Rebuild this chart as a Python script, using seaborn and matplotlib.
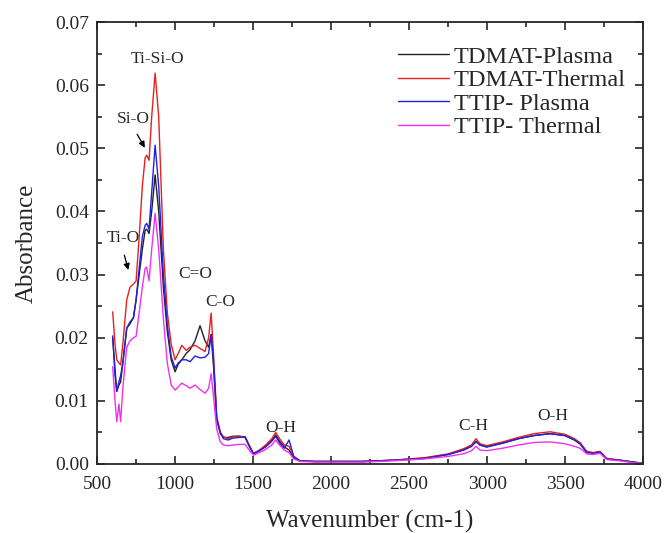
import numpy as np
import pandas as pd
import matplotlib
matplotlib.use("Agg")
import matplotlib.pyplot as plt
import seaborn as sns
from matplotlib.ticker import MultipleLocator

# wavenumbers (cm-1) shared by all spectra
wavenumber = [600, 615, 626, 640, 651, 665, 690, 711, 733, 750, 770, 790, 808, 818, 833, 850,
              872, 895, 925, 950, 975, 1000, 1020, 1043, 1071, 1096, 1128, 1160, 1192, 1215,
              1231, 1245, 1267, 1290, 1310, 1340, 1372, 1410, 1449, 1475, 1502, 1540, 1580,
              1620, 1645, 1670, 1700, 1731, 1760, 1800, 1900, 2000, 2200, 2400, 2600, 2750,
              2848, 2900, 2929, 2955, 2997, 3100, 3200, 3300, 3404, 3500, 3560, 3596, 3639,
              3680, 3724, 3767, 3850, 3938, 4000]

tdmat_plasma = [0.0200, 0.0150, 0.0115, 0.0125, 0.0130, 0.0160, 0.0215, 0.0222, 0.0232, 0.0260,
                0.0300, 0.0340, 0.0370, 0.0372, 0.0365, 0.0400, 0.0458, 0.0400, 0.0280, 0.0210,
                0.0165, 0.0146, 0.0158, 0.0165, 0.0175, 0.0181, 0.0195, 0.0219, 0.0195, 0.0185,
                0.0205, 0.0160, 0.0070, 0.0048, 0.0042, 0.0042, 0.0044, 0.0044, 0.0042, 0.0028,
                0.0016, 0.0021, 0.0028, 0.0037, 0.0046, 0.0036, 0.0027, 0.0022, 0.0010, 0.0005,
                0.0004, 0.0004, 0.0004, 0.0006, 0.0009, 0.0015, 0.0022, 0.0028, 0.0036, 0.0030,
                0.0027, 0.0033, 0.0040, 0.0045, 0.0048, 0.0045, 0.0038, 0.0032, 0.0019, 0.0017,
                0.0019, 0.0008, 0.0006, 0.0003, 0.0001]

tdmat_thermal = [0.0241, 0.0190, 0.0165, 0.0160, 0.0157, 0.0190, 0.0260, 0.0280, 0.0285, 0.0290,
                 0.0360, 0.0440, 0.0485, 0.0489, 0.0481, 0.0550, 0.0619, 0.0550, 0.0340, 0.0240,
                 0.0190, 0.0165, 0.0175, 0.0188, 0.0180, 0.0185, 0.0188, 0.0183, 0.0178, 0.0200,
                 0.0239, 0.0180, 0.0075, 0.0050, 0.0043, 0.0040, 0.0043, 0.0044, 0.0043, 0.0030,
                 0.0017, 0.0022, 0.0030, 0.0040, 0.0050, 0.0040, 0.0030, 0.0028, 0.0012, 0.0005,
                 0.0004, 0.0004, 0.0004, 0.0006, 0.0010, 0.0016, 0.0024, 0.0030, 0.0040, 0.0032,
                 0.0029, 0.0035, 0.0042, 0.0048, 0.0051, 0.0047, 0.0040, 0.0034, 0.0020, 0.0018,
                 0.0020, 0.0009, 0.0006, 0.0003, 0.0001]

ttip_plasma = [0.0203, 0.0140, 0.0115, 0.0130, 0.0140, 0.0160, 0.0215, 0.0225, 0.0231, 0.0260,
               0.0310, 0.0360, 0.0378, 0.0381, 0.0372, 0.0430, 0.0505, 0.0440, 0.0300, 0.0220,
               0.0170, 0.0152, 0.0160, 0.0165, 0.0165, 0.0162, 0.0171, 0.0168, 0.0169, 0.0175,
               0.0205, 0.0170, 0.0072, 0.0050, 0.0040, 0.0038, 0.0041, 0.0042, 0.0043, 0.0029,
               0.0016, 0.0021, 0.0027, 0.0036, 0.0044, 0.0033, 0.0025, 0.0038, 0.0012, 0.0005,
               0.0004, 0.0004, 0.0004, 0.0006, 0.0009, 0.0015, 0.0022, 0.0028, 0.0035, 0.0030,
               0.0027, 0.0033, 0.0040, 0.0045, 0.0048, 0.0045, 0.0038, 0.0032, 0.0018, 0.0017,
               0.0019, 0.0008, 0.0006, 0.0003, 0.0001]

ttip_thermal = [0.0154, 0.0100, 0.0067, 0.0095, 0.0067, 0.0120, 0.0185, 0.0195, 0.0200, 0.0202,
                0.0240, 0.0280, 0.0310, 0.0312, 0.0290, 0.0340, 0.0397, 0.0340, 0.0230, 0.0160,
                0.0125, 0.0117, 0.0122, 0.0128, 0.0124, 0.0120, 0.0125, 0.0118, 0.0112, 0.0120,
                0.0143, 0.0110, 0.0055, 0.0035, 0.0030, 0.0029, 0.0030, 0.0031, 0.0031, 0.0022,
                0.0014, 0.0018, 0.0023, 0.0030, 0.0038, 0.0030, 0.0022, 0.0018, 0.0008, 0.0004,
                0.0003, 0.0003, 0.0003, 0.0005, 0.0008, 0.0012, 0.0016, 0.0021, 0.0028, 0.0022,
                0.0021, 0.0025, 0.0030, 0.0034, 0.0035, 0.0032, 0.0028, 0.0025, 0.0016, 0.0015,
                0.0017, 0.0007, 0.0005, 0.0002, 0.0001]

series_names = ["TDMAT-Plasma", "TDMAT-Thermal", "TTIP- Plasma", "TTIP- Thermal"]
series_colors = ["#222222", "#e8201c", "#2020e0", "#f030f0"]

frames = []
for name, vals in zip(series_names, [tdmat_plasma, tdmat_thermal, ttip_plasma, ttip_thermal]):
    frames.append(pd.DataFrame({"wn": wavenumber, "abs": vals, "sample": name}))
df = pd.concat(frames, ignore_index=True)

sns.set_style("ticks")
plt.rcParams['font.family'] = ['Liberation Serif', 'DejaVu Serif']

fig = plt.figure(figsize=(6.65, 5.33), dpi=100)
ax = fig.add_axes([0.146, 0.1295, 0.821, 0.8292])

sns.lineplot(data=df, x="wn", y="abs", hue="sample", hue_order=series_names,
             palette=series_colors, linewidth=1.0, ax=ax, sort=False)

ax.set_xlim(500, 4000)
ax.set_ylim(0, 0.07)
ax.xaxis.set_major_locator(MultipleLocator(500))
ax.xaxis.set_minor_locator(MultipleLocator(250))
ax.yaxis.set_major_locator(MultipleLocator(0.01))
ax.yaxis.set_minor_locator(MultipleLocator(0.005))
ax.yaxis.set_major_formatter(matplotlib.ticker.FormatStrFormatter('%.2f'))
ax.tick_params(which="both", direction="in", top=True, right=True, labelsize=14, width=1.2)
ax.tick_params(which="major", length=6)
ax.tick_params(which="minor", length=3.5)
ax.tick_params(axis="x", which="major", pad=9)
ax.tick_params(axis="y", which="major", pad=6)
for s in ax.spines.values():
    s.set_linewidth(1.3)

ax.set_xlabel("Wavenumber (cm-1)", fontsize=18, labelpad=12)
ax.set_ylabel("Absorbance", fontsize=18, labelpad=12)

# peak labels
ax.text(885, 0.0628, "Ti-Si-O", fontsize=12.5, ha="center", va="bottom")
ax.text(735, 0.0533, "Si-O", fontsize=12.5, ha="center", va="bottom")
ax.annotate("", xy=(815, 0.0497), xytext=(748, 0.0526),
            arrowprops=dict(arrowstyle="-|>", color="black", lw=0.9, mutation_scale=9))
ax.text(667, 0.0345, "Ti-O", fontsize=12.5, ha="center", va="bottom")
ax.annotate("", xy=(705, 0.0303), xytext=(670, 0.0335),
            arrowprops=dict(arrowstyle="-|>", color="black", lw=0.9, mutation_scale=9))
ax.text(1130, 0.0288, "C=O", fontsize=12.5, ha="center", va="bottom")
ax.text(1290, 0.0244, "C-O", fontsize=12.5, ha="center", va="bottom")
ax.text(1680, 0.0045, "O-H", fontsize=12.5, ha="center", va="bottom")
ax.text(2910, 0.0047, "C-H", fontsize=12.5, ha="center", va="bottom")
ax.text(3420, 0.0063, "O-H", fontsize=12.5, ha="center", va="bottom")

leg = ax.legend(loc="upper right", frameon=False, fontsize=17.5, handlelength=2.1,
                handletextpad=0.2, labelspacing=0.06, borderaxespad=0.3,
                bbox_to_anchor=(1.0, 0.985))
for line in leg.get_lines():
    line.set_linewidth(1.0)

fig.savefig("out.png", dpi=100)
